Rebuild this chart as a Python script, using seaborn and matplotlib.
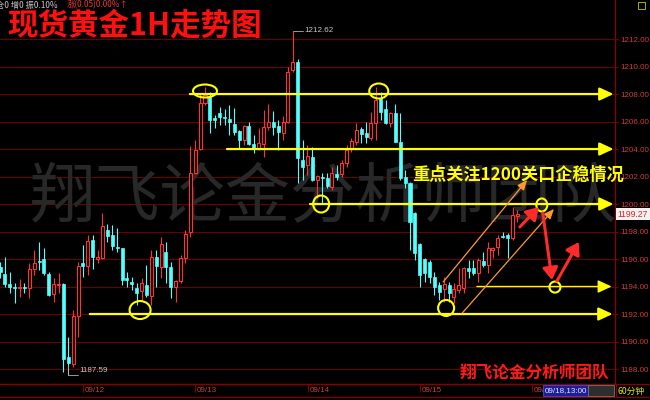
import matplotlib
matplotlib.use("Agg")
import matplotlib.pyplot as plt
import seaborn as sns
import numpy as np
from matplotlib.patches import Ellipse, Rectangle
from matplotlib.lines import Line2D
import matplotlib.transforms as mtransforms

# ---------------- data (hourly candles) ----------------
opens = [1195.42, 1194.91, 1194.18, 1193.96, 1193.89, 1193.96, 1193.89, 1195.27, 1195.85, 1196.00,
         1194.91, 1193.45, 1194.11, 1194.18, 1188.87, 1188.36, 1191.85, 1195.71, 1195.49, 1197.38,
         1196.00, 1196.07, 1198.11, 1197.75, 1196.87, 1196.80, 1194.62, 1194.33, 1193.89, 1193.67,
         1194.11, 1193.31, 1196.15, 1195.42, 1196.51, 1195.42, 1193.96, 1194.40, 1196.07, 1197.96,
         1202.25, 1204.00, 1207.35, 1207.78, 1206.25, 1206.62, 1206.33, 1206.18, 1205.82, 1205.31,
         1204.65, 1205.67, 1204.36, 1204.07, 1204.36, 1205.60, 1205.96, 1205.67, 1205.16, 1205.96,
         1209.75, 1210.33, 1203.20, 1202.84, 1203.42, 1201.75, 1201.96, 1201.89, 1201.24, 1202.18,
         1202.18, 1202.98, 1204.07, 1204.51, 1205.45, 1205.16, 1204.80, 1205.89, 1207.71, 1206.91,
         1205.89, 1206.62, 1204.51, 1201.96, 1201.53, 1199.35, 1197.09, 1196.00, 1195.78, 1194.69,
         1194.11, 1193.82, 1194.11, 1193.24, 1193.75, 1193.89, 1195.35, 1195.35, 1194.98, 1195.85,
         1195.56, 1196.65, 1196.87, 1197.67, 1197.75, 1197.53, 1199.10]
highs = [1195.78, 1196.15, 1195.05, 1194.25, 1194.55, 1194.25, 1195.71, 1196.65, 1197.24, 1196.80,
         1195.05, 1194.62, 1194.98, 1194.25, 1190.33, 1192.29, 1195.78, 1197.02, 1197.75, 1197.75,
         1196.65, 1199.35, 1198.55, 1198.47, 1198.25, 1196.82, 1195.05, 1194.69, 1194.25, 1194.62,
         1195.56, 1196.65, 1196.65, 1197.60, 1197.24, 1195.78, 1194.47, 1196.29, 1198.11, 1204.22,
         1204.65, 1208.07, 1208.51, 1208.15, 1206.47, 1207.05, 1206.91, 1207.20, 1206.98, 1205.38,
         1205.75, 1205.96, 1205.02, 1205.53, 1206.84, 1207.27, 1206.76, 1206.11, 1206.40, 1209.96,
         1212.62, 1210.55, 1204.65, 1204.29, 1204.15, 1202.11, 1202.25, 1202.25, 1202.69, 1202.84,
         1203.20, 1204.29, 1204.80, 1205.89, 1205.60, 1205.96, 1206.69, 1208.51, 1208.15, 1207.56,
         1206.69, 1207.27, 1206.62, 1202.47, 1201.60, 1199.42, 1197.16, 1196.07, 1195.93, 1195.05,
         1194.33, 1194.69, 1194.33, 1194.25, 1195.35, 1195.42, 1195.93, 1195.93, 1196.07, 1196.51,
         1197.24, 1196.87, 1197.75, 1197.96, 1197.89, 1199.78, 1199.56]
lows = [1194.62, 1193.96, 1193.53, 1192.80, 1193.24, 1193.53, 1193.16, 1194.84, 1195.20, 1194.84,
        1193.31, 1192.87, 1193.53, 1187.75, 1187.59, 1188.15, 1190.33, 1194.69, 1194.84, 1195.27,
        1195.71, 1196.00, 1197.24, 1196.65, 1196.51, 1194.11, 1193.96, 1193.75, 1192.65, 1193.02,
        1193.24, 1192.65, 1193.96, 1194.62, 1194.25, 1193.16, 1192.87, 1194.25, 1195.71, 1197.60,
        1202.20, 1203.93, 1207.20, 1205.16, 1205.53, 1205.75, 1205.75, 1205.02, 1205.02, 1204.07,
        1204.29, 1204.29, 1203.71, 1203.93, 1203.42, 1205.38, 1205.02, 1203.93, 1204.65, 1205.89,
        1209.60, 1201.53, 1201.75, 1202.11, 1201.70, 1200.44, 1200.07, 1201.16, 1201.02, 1201.75,
        1201.96, 1202.69, 1203.78, 1204.29, 1204.44, 1204.44, 1204.65, 1204.65, 1206.11, 1205.85,
        1205.60, 1204.50, 1201.75, 1201.16, 1196.65, 1195.93, 1193.96, 1194.33, 1194.25, 1193.38,
        1193.02, 1192.87, 1192.87, 1192.80, 1193.53, 1193.53, 1194.62, 1194.84, 1194.33, 1195.42,
        1194.98, 1196.07, 1196.29, 1197.53, 1196.07, 1197.38, 1198.69]
closes = [1195.05, 1194.18, 1193.96, 1193.89, 1193.96, 1193.89, 1195.27, 1195.71, 1195.78, 1194.98,
          1193.38, 1194.18, 1194.18, 1188.73, 1188.44, 1191.85, 1195.49, 1195.49, 1197.31, 1196.15,
          1196.15, 1198.40, 1197.67, 1196.95, 1196.80, 1194.47, 1194.47, 1194.18, 1193.53, 1194.25,
          1193.38, 1196.15, 1195.49, 1197.09, 1195.42, 1193.96, 1194.40, 1196.07, 1197.82, 1202.25,
          1203.93, 1207.35, 1207.93, 1206.11, 1206.11, 1206.33, 1206.25, 1205.96, 1205.24, 1204.65,
          1205.67, 1204.36, 1204.07, 1204.44, 1205.60, 1205.96, 1205.60, 1205.24, 1205.96, 1209.60,
          1210.33, 1203.35, 1202.69, 1203.49, 1201.75, 1202.04, 1201.89, 1201.31, 1202.25, 1201.96,
          1202.98, 1203.93, 1204.58, 1205.38, 1205.09, 1204.87, 1205.89, 1207.56, 1206.69, 1205.89,
          1206.62, 1204.51, 1201.89, 1201.53, 1198.69, 1196.44, 1194.84, 1194.98, 1194.69, 1193.96,
          1193.60, 1194.18, 1193.53, 1193.82, 1194.11, 1195.35, 1195.13, 1194.98, 1195.93, 1195.56,
          1196.80, 1196.80, 1197.53, 1197.60, 1197.53, 1199.20, 1199.27]

date_labels = ["09/12", "09/13", "09/14", "09/15", "09/18"]
date_index = [17, 40, 63, 86, 109]
price_ticks = [1188, 1190, 1192, 1194, 1196, 1198, 1200, 1202, 1204, 1206, 1208, 1210, 1212]
max_price, max_index = 1212.62, 60
min_price, min_index = 1187.59, 14
last_price = 1199.27

# annotation levels drawn by the analyst
level_prices = [1208, 1204, 1200, 1194, 1192]
level_start = [38.9, 46.5, 63.5, 97.7, 18.4]
level_end = [125.7, 125.7, 125.7, 125.3, 125.5]
level_width = [1.6, 1.6, 1.6, 1.0, 1.6]
circle_x = [42.0, 77.6, 65.8, 28.7, 91.4, 111.0, 113.7]
circle_y = [1208.22, 1208.22, 1200.0, 1192.29, 1192.44, 1199.93, 1193.96]
circle_w = [24, 19, 16, 21, 16, 11, 11]
circle_h = [13, 15, 17, 18, 16, 13, 11]
channel_from = [(90.8, 1194.33), (94.7, 1192.07)]
channel_to = [(108.0, 1201.75), (113.5, 1199.64)]
red_from = [(106.5, 1198.33), (111.2, 1199.35), (114.1, 1194.40)]
red_to = [(110.4, 1199.78), (113.1, 1194.47), (118.6, 1197.24)]

# ---------------- style ----------------
sns.set_theme(style="dark", rc={"axes.facecolor": "black", "figure.facecolor": "black"})
plt.rcParams["font.family"] = ["Noto Sans CJK SC", "DejaVu Sans"]

W, H = 650, 400
fig = plt.figure(figsize=(6.5, 4), dpi=100, facecolor="black")
ax = fig.add_axes([0, 16 / H, 615 / W, 384 / H])
ax.set_facecolor("black")
XMAX = 126
ax.set_xlim(0, XMAX)
ax.set_ylim(1186.91, 1214.84)
pxx = 615 / XMAX          # pixels per candle
pxy = 384 / (1214.84 - 1186.91)  # pixels per price unit

UP = "#ff3232"
DN = "#54ffff"
GRID = "#6a0000"

for t in price_ticks:
    ax.axhline(t, color=GRID, lw=0.8, zorder=0.5)

# watermark (behind candles)
ax.text(324 / W, 1 - 199 / H, "翔飞论金分析师团队", transform=fig.transFigure,
        fontsize=47, color="#282828", ha="center", va="center", zorder=0.6, clip_on=False)

o = np.array(opens); h = np.array(highs); l = np.array(lows); c = np.array(closes)
x = np.arange(len(o))
up = c >= o
bw = 0.62
bot = np.minimum(o, c)
top = np.maximum(o, c)
hgt = np.maximum(top - bot, 0.07)

# wicks
ax.vlines(x[up], top[up], h[up], color=UP, lw=0.8, zorder=2)
ax.vlines(x[up], l[up], bot[up], color=UP, lw=0.8, zorder=2)
ax.vlines(x[~up], l[~up], h[~up], color=DN, lw=0.8, zorder=2)
# bodies
ax.bar(x[up], hgt[up], bottom=bot[up], width=bw, facecolor="black", edgecolor=UP, lw=0.8, zorder=3)
ax.bar(x[~up], hgt[~up], bottom=bot[~up], width=bw, facecolor=DN, edgecolor=DN, lw=0.5, zorder=3)

# axes decoration
ax.set_xticks([])
ax.yaxis.tick_right()
ax.set_yticks(price_ticks)
ax.set_yticklabels([f"{t:.2f}" for t in price_ticks])
ax.tick_params(axis="y", colors="#8a0000", labelcolor="#d23c3c", labelsize=5.8,
               length=2.5, width=0.6, pad=1.5)
for lab in ax.get_yticklabels():
    lab.set_family("Liberation Sans")
for s in ["top", "left"]:
    ax.spines[s].set_visible(False)
for s in ["right", "bottom"]:
    ax.spines[s].set_color("#8a0000")
    ax.spines[s].set_linewidth(0.9)
ax.grid(False)

# max / min markers
ax.plot([max_index, max_index + 2.1], [max_price, max_price], color="#b0b0b0", lw=0.6, zorder=4)
ax.text(max_index + 2.3, max_price, f"{max_price:.2f}", color="#c8c8c8", fontsize=5.8,
        va="center", ha="left", family="Liberation Sans", zorder=4)
ax.plot([min_index, min_index, min_index + 2.0], [min_price + 0.7, min_price - 0.03, min_price - 0.03],
        color="#b0b0b0", lw=0.6, zorder=4)
ax.text(min_index + 2.3, min_price + 0.3, f"{min_price:.2f}", color="#c8c8c8", fontsize=5.8,
        va="center", ha="left", family="Liberation Sans", zorder=4)

# last price tag
blend = mtransforms.blended_transform_factory(ax.transAxes, ax.transData)
ax.text(1.004, last_price, f"{last_price:.2f}", transform=blend, color="#e02020", fontsize=6.2,
        family="Liberation Sans", va="center", ha="left", clip_on=False, zorder=8,
        bbox=dict(boxstyle="square,pad=0.2", fc="#f2f2f2", ec="none"))

# analyst levels
for lv, xs, xe, lw in zip(level_prices, level_start, level_end, level_width):
    ax.annotate("", xy=(xe, lv), xytext=(xs, lv), annotation_clip=False,
                arrowprops=dict(arrowstyle="-|>,head_length=0.6,head_width=0.28", color="#ffff00",
                                lw=lw, mutation_scale=14, shrinkA=0, shrinkB=0), zorder=6)

for cx, cy, cw, ch in zip(circle_x, circle_y, circle_w, circle_h):
    ax.add_patch(Ellipse((cx, cy), cw / pxx, ch / pxy, fill=False, ec="#ffff00", lw=1.5, zorder=7))

for (x0, y0), (x1, y1) in zip(channel_from, channel_to):
    ax.annotate("", xy=(x1, y1), xytext=(x0, y0), annotation_clip=False,
                arrowprops=dict(arrowstyle="-|>,head_length=0.6,head_width=0.25", color="#ff9933",
                                lw=0.9, mutation_scale=10, shrinkA=0, shrinkB=0), zorder=6)

for (x0, y0), (x1, y1) in zip(red_from, red_to):
    ax.annotate("", xy=(x1, y1), xytext=(x0, y0), annotation_clip=False,
                arrowprops=dict(arrowstyle="-|>,head_length=0.6,head_width=0.38", color="#ff2a2a",
                                lw=2.2, mutation_scale=12, shrinkA=0, shrinkB=0), zorder=7)

ax.text(84.4, 1202.11, "重点关注1200关口企稳情况", color="#ffff00", fontsize=12.3,
        fontweight="bold", va="center", ha="left", clip_on=False, zorder=8)

# ---------------- figure-level furniture ----------------
def fx(px):
    return px / W

def fy(py):
    return 1 - py / H

# bottom time bar
fig.add_artist(Line2D([0, 1], [fy(384), fy(384)], color="#8a0000", lw=0.9))
fig.add_artist(Line2D([0, 1], [fy(397), fy(397)], color="#8a0000", lw=0.9))
fig.add_artist(Line2D([fx(615.5), fx(615.5)], [fy(384), fy(397)], color="#8a0000", lw=0.9))
clip_rect = Rectangle((0, 0), fx(543), 1, transform=fig.transFigure, visible=False)
fig.add_artist(clip_rect)
for lab, idx in zip(date_labels, date_index):
    xp = idx * pxx
    fig.add_artist(Line2D([fx(xp), fx(xp)], [fy(385), fy(392)], color="#8a0000", lw=0.7))
    t = fig.text(fx(xp + 2), fy(391), lab, color="#c84040", fontsize=5.8, family="Liberation Sans",
                 va="center", ha="left")
    t.set_clip_path(clip_rect)
fig.add_artist(Rectangle((fx(543), fy(396)), 45 / W, 11 / H, transform=fig.transFigure,
                         facecolor="#1e1e96", edgecolor="#4a4ad0", lw=0.6, zorder=5))
fig.text(fx(565.5), fy(390.8), "09/18,13:00", color="#e8e8ff", fontsize=5.8, family="Liberation Sans",
         ha="center", va="center", zorder=6)
fig.add_artist(Rectangle((fx(588), fy(396)), 26 / W, 11 / H, transform=fig.transFigure,
                         facecolor="#2e2e2e", edgecolor="#777777", lw=0.6, zorder=5))
fig.text(fx(617), fy(391), "60分钟", color="#e6e600", fontsize=6.3, ha="left", va="center")

# top-right icon
fig.add_artist(Rectangle((fx(638), fy(9)), 7 / W, 7 / H, transform=fig.transFigure,
                         facecolor="none", edgecolor="#c8c800", lw=0.6))

# header info and title
fig.text(fx(-4), fy(5), "仓0 增0 振0.10%", color="#c8c8c8", fontsize=6, ha="left", va="center")
fig.text(fx(67), fy(5), "涨(0.05)0.00%↑", color="#e03c3c", fontsize=6, ha="left", va="center")
fig.text(fx(7), fy(26), "现货黄金1H走势图", color="#ff1010", fontsize=22, fontweight="bold",
         ha="left", va="center")
fig.text(fx(460), fy(374), "翔飞论金分析师团队", color="#ff1a1a", fontsize=12, fontweight="bold",
         ha="left", va="center")

fig.savefig("out.png", dpi=100, facecolor="black")
